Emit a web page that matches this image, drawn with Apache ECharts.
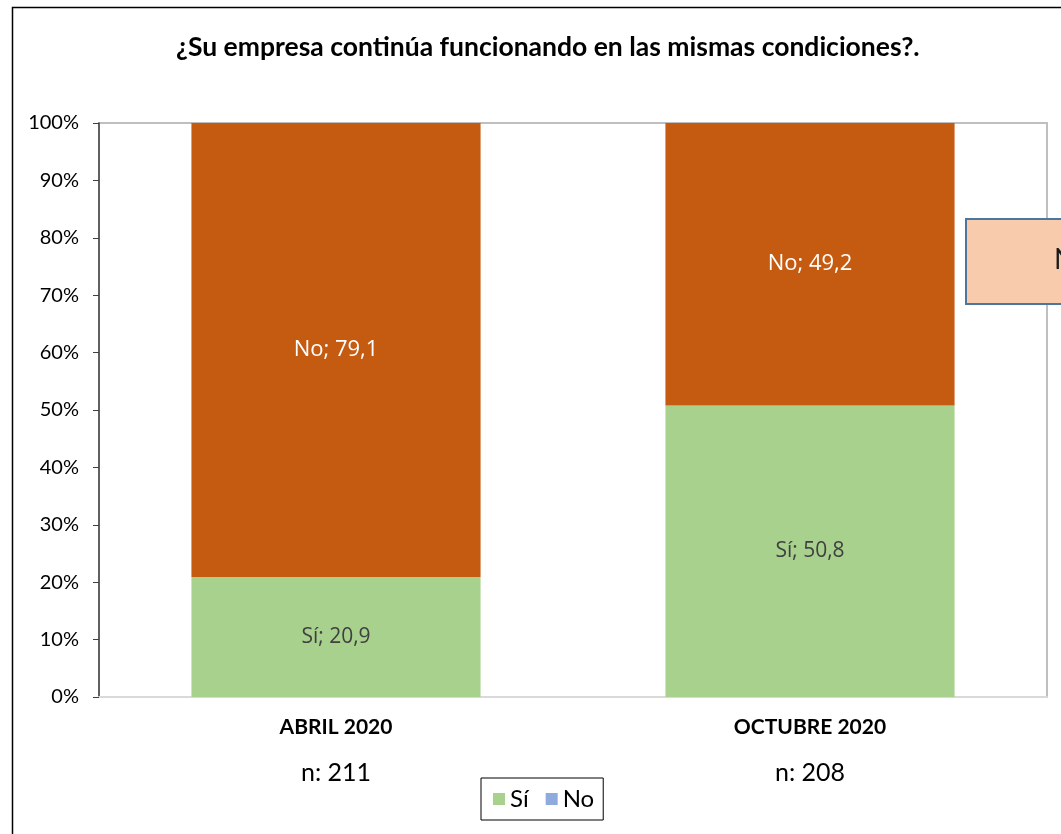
<!DOCTYPE html>
<html>
<head>
<meta charset="utf-8">
<script src="https://cdn.jsdelivr.net/npm/echarts@6/dist/echarts.min.js"></script>
<style>
  html, body { margin: 0; padding: 0; background: #fff; }
  #chart { width: 1061px; height: 834px; }
</style>
</head>
<body>
<div id="chart"></div>
<script>
  const categories = ["ABRIL 2020", "OCTUBRE 2020"];
  const sampleSizes = ["n: 211", "n: 208"];
  const siValues = [20.9, 50.8];
  const noValues = [79.1, 49.2];

  const chart = echarts.init(document.getElementById("chart"));

  const fmt = (name) => (p) => `${name}; ${String(p.value).replace(".", ",")}`;

  chart.setOption({
    animation: false,
    textStyle: { fontFamily: "Lato" },
    title: {
      text: "¿Su empresa continúa funcionando en las mismas condiciones?.",
      left: 171,
      top: 29,
      textStyle: { fontSize: 26.5, fontWeight: "bold", color: "#000", fontFamily: "Lato" },
    },
    grid: {
      left: 99,
      right: 14,
      top: 123,
      bottom: 137,
      show: true,
      borderColor: "#bfbfbf",
      borderWidth: 2,
    },
    legend: {
      left: 481,
      top: 778,
      padding: [9, 9, 9, 12],
      borderColor: "#000",
      borderWidth: 1,
      itemWidth: 12,
      itemHeight: 12,
      itemGap: 17,
      textStyle: { fontSize: 24, color: "#000", padding: [0, 0, 0, 0] },
      data: [
        { name: "Sí", icon: "rect", itemStyle: { color: "#a9d18e" } },
        { name: "No", icon: "rect", itemStyle: { color: "#8faadc" } },
      ],
    },
    xAxis: {
      type: "category",
      data: categories,
      axisLine: { lineStyle: { color: "#d9d9d9", width: 2 } },
      axisTick: { show: false },
      axisLabel: {
        margin: 10,
        formatter: (value, idx) => `{a|${value}}\n{b|${sampleSizes[idx]}}`,
        rich: {
          a: { fontSize: 21, fontWeight: "bold", color: "#000", lineHeight: 40 },
          b: { fontSize: 25, color: "#000", lineHeight: 52 },
        },
      },
    },
    yAxis: {
      type: "value",
      min: 0,
      max: 100,
      interval: 10,
      axisLine: { show: true, lineStyle: { color: "#404040", width: 1.5 } },
      axisTick: { show: true, inside: false, length: 6, lineStyle: { color: "#404040" } },
      splitLine: { show: false },
      axisLabel: { formatter: "{value}%", fontSize: 20, color: "#000", margin: 20 },
    },
    series: [
      {
        name: "Sí",
        type: "bar",
        stack: "total",
        barCategoryGap: "39%",
        data: siValues,
        itemStyle: { color: "#a9d18e" },
        label: {
          show: true,
          position: "inside",
          formatter: fmt("Sí"),
          fontSize: 21,
          color: "#404040",
          fontFamily: "Open Sans",
        },
      },
      {
        name: "No",
        type: "bar",
        stack: "total",
        data: noValues,
        itemStyle: { color: "#c55a11" },
        label: {
          show: true,
          position: "inside",
          formatter: fmt("No"),
          fontSize: 22,
          color: "#fff",
          fontFamily: "Open Sans",
        },
      },
    ],
    graphic: [
      {
        type: "rect",
        left: 10,
        top: 5,
        shape: { width: 1200, height: 1000 },
        style: { fill: "none", stroke: "#000", lineWidth: 1.5 },
        silent: true,
        z: 0,
      },
      {
        type: "rect",
        left: 965,
        top: 218,
        shape: { width: 200, height: 85 },
        style: { fill: "#f8cbad", stroke: "#4a76a0", lineWidth: 2 },
        z: 10,
      },
      {
        type: "text",
        left: 1054,
        top: 246,
        style: { text: "N", fontSize: 28, fill: "#1a1a1a", fontFamily: "Lato" },
        z: 11,
      },
    ],
  });
</script>
</body>
</html>
